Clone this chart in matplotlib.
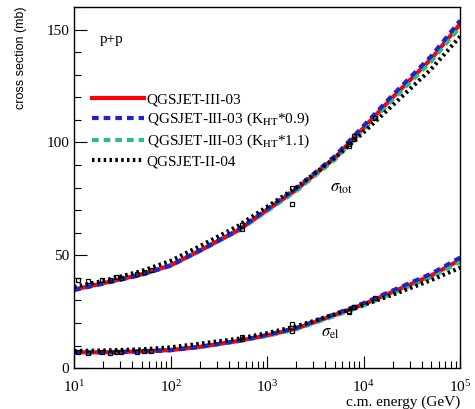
import numpy as np
import matplotlib
matplotlib.use('Agg')
import matplotlib.pyplot as plt
from matplotlib.ticker import LogLocator, LogFormatterMathtext, MultipleLocator

plt.rcParams['font.family'] = ['Liberation Serif', 'DejaVu Serif']
plt.rcParams['mathtext.fontset'] = 'stix'

# c.m. energy grid (GeV) for the model curves
energy = [10, 20, 50, 100, 200, 500, 1000, 2000, 5000, 10000, 20000, 50000, 100000]

# QGSJET-III-03 (and K_HT variants), QGSJET-II-04: total and elastic (mb)
tot_iii = [34.8, 37.6, 41.5, 45.5, 52.0, 61.0, 70.0, 79.0, 93.0, 106.5, 120.0, 137.0, 152.5]
tot_iii_09 = [34.6, 37.4, 41.3, 45.4, 52.0, 61.2, 70.4, 79.6, 93.8, 107.4, 121.0, 138.2, 154.0]
tot_iii_11 = [35.0, 37.8, 41.7, 45.6, 51.9, 60.8, 69.6, 78.5, 92.3, 105.7, 119.0, 135.9, 151.2]
tot_ii04 = [36.0, 38.6, 43.0, 47.5, 54.0, 63.0, 71.5, 80.0, 93.0, 104.5, 116.5, 132.5, 147.0]

el_iii = [7.0, 7.0, 7.4, 8.0, 9.4, 12.0, 14.5, 17.5, 23.5, 28.3, 33.8, 41.0, 48.0]
el_iii_09 = [6.9, 6.9, 7.3, 7.9, 9.4, 12.1, 14.7, 17.8, 23.9, 28.8, 34.4, 41.8, 49.0]
el_iii_11 = [7.1, 7.1, 7.5, 8.1, 9.4, 11.9, 14.3, 17.2, 23.1, 27.8, 33.2, 40.3, 47.1]
el_ii04 = [7.6, 7.8, 8.3, 9.2, 10.8, 13.0, 15.5, 18.5, 23.8, 28.0, 32.5, 39.0, 44.5]

# experimental points
exp_e = [11, 13.8, 19.4, 23.5, 27, 30.6, 44.7, 52.8, 62.5, 546, 546, 1800, 1800, 7000, 7000, 8000, 8000, 13000]
exp_tot = [38.9, 38.5, 38.9, 39.0, 40.3, 40.1, 41.8, 42.4, 43.5, 61.5, 63.5, 72.8, 80.0, 98.3, 99.1, 101.7, 102.9, 110.6]
exp_el = [7.0, 6.9, 7.0, 6.8, 7.1, 7.2, 7.3, 7.4, 7.5, 12.9, 13.6, 16.6, 19.7, 24.8, 25.4, 27.0, 27.1, 31.0]

labels = ['QGSJET-III-03',
          r'QGSJET-III-03 (K$_{\mathrm{HT}}$*0.9)',
          r'QGSJET-III-03 (K$_{\mathrm{HT}}$*1.1)',
          'QGSJET-II-04']

fig = plt.figure(figsize=(4.75, 4.09), dpi=100)
ax = fig.add_axes([0.156, 0.100, 0.813, 0.883])

red, blue, green = '#ff0000', '#2222cc', '#2dbb80'
dash = (0, (1.6, 1.2))
dots = (0, (0.6, 0.8))

handles = {}
for key, tot, el, c, ls in [
        (0, tot_iii, el_iii, red, '-'),
        (2, tot_iii_11, el_iii_11, green, dash),
        (1, tot_iii_09, el_iii_09, blue, dash),
        (3, tot_ii04, el_ii04, 'black', dots)]:
    h, = ax.plot(energy, tot, color=c, ls=ls, lw=3.0)
    ax.plot(energy, el, color=c, ls=ls, lw=3.0)
    handles[key] = h

ax.plot(exp_e, exp_tot, ls='none', marker='s', ms=3, mfc='none', mec='black', mew=0.9)
ax.plot(exp_e, exp_el, ls='none', marker='s', ms=3, mfc='none', mec='black', mew=0.9)

ax.set_xscale('log')
ax.set_xlim(10, 1e5)
ax.set_ylim(0, 160)
ax.yaxis.set_major_locator(MultipleLocator(50))
ax.yaxis.set_minor_locator(MultipleLocator(10))
ax.xaxis.set_major_locator(LogLocator(base=10, numticks=10))
ax.xaxis.set_minor_locator(LogLocator(base=10, subs=np.arange(2, 10), numticks=10))
ax.xaxis.set_major_formatter(LogFormatterMathtext())
ax.tick_params(which='major', direction='in', length=9, width=0.8, labelsize=11)
ax.tick_params(which='minor', direction='in', length=5, width=0.8)
ax.tick_params(axis='x', pad=8)

for s in ax.spines.values():
    s.set_linewidth(1.0)

ax.set_ylabel('cross section (mb)', loc='top', fontsize=9, family='Liberation Sans', labelpad=14)
ax.set_xlabel('c.m. energy (GeV)', loc='right', fontsize=11, labelpad=0)

ax.text(0.067, 0.91, 'p+p', transform=ax.transAxes, fontsize=11, va='center')
ax.text(4500, 80, r'$\sigma_{\mathrm{tot}}$', fontsize=12, ha='left', va='center')
ax.text(3600, 15.5, r'$\sigma_{\mathrm{el}}$', fontsize=12, ha='left', va='center')

ax.legend([handles[i] for i in range(4)], labels, loc='upper left',
          bbox_to_anchor=(0.03, 0.78), frameon=False,
          fontsize=11, handlelength=3.4, handletextpad=0.2, labelspacing=0.3,
          borderaxespad=0)

fig.savefig('out.png', dpi=100)
